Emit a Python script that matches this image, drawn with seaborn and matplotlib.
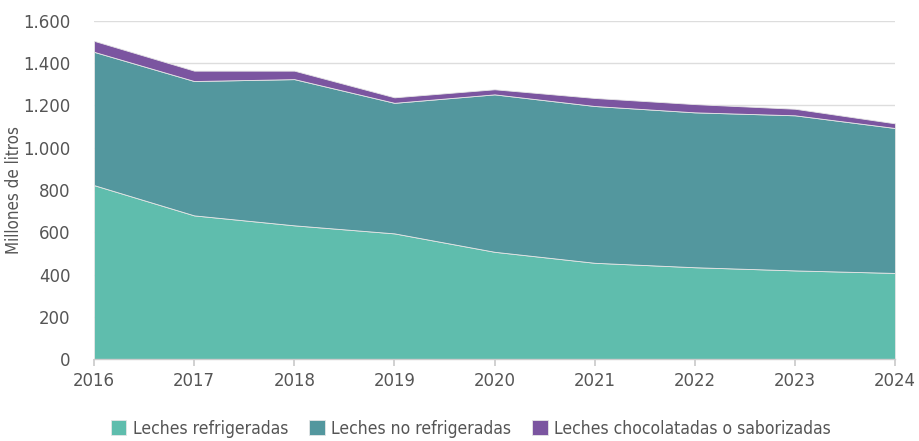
import pandas as pd
import numpy as np
import matplotlib
matplotlib.use("Agg")
import matplotlib.pyplot as plt
from matplotlib import font_manager
import seaborn as sns

# Data (millones de litros)
years = [2016, 2017, 2018, 2019, 2020, 2021, 2022, 2023, 2024]
refrigeradas = [823, 680, 633, 595, 508, 456, 435, 420, 408]
no_refrigeradas = [630, 635, 691, 617, 744, 741, 732, 733, 685]
chocolatadas = [52, 49, 40, 26, 24, 38, 39, 31, 22]

series_names = ['Leches refrigeradas', 'Leches no refrigeradas',
                'Leches chocolatadas o saborizadas']
colors = ['#5fbdad', '#53979e', '#7b55a0']

df = pd.DataFrame({
    'year': years,
    series_names[0]: refrigeradas,
    series_names[1]: no_refrigeradas,
    series_names[2]: chocolatadas,
})

sns.set_theme(style='white')

# the reference uses a condensed face; use one if the system has it
condensed = [f for f in font_manager.fontManager.ttflist
             if f.stretch in ('condensed', 'semi-condensed') and f.style == 'normal'
             and f.weight in (400, 'normal')]
if condensed:
    plt.rcParams['font.family'] = [condensed[0].name, 'DejaVu Sans']
    plt.rcParams['font.stretch'] = condensed[0].stretch
    fs = 13.2
else:
    plt.rcParams['font.family'] = ['Roboto', 'DejaVu Sans']
    fs = 12
text_color = '#555555'

fig, ax = plt.subplots(figsize=(9.19, 4.41), dpi=100)
fig.subplots_adjust(left=0.1023, right=0.9739, bottom=0.1853, top=0.953)

ax.stackplot(df['year'], [df[n] for n in series_names], colors=colors,
             labels=series_names, edgecolor='#e6e6e6', linewidth=0.6, zorder=2)

ax.set_xlim(2016, 2024)
ax.set_ylim(0, 1600)
ax.set_xticks(years)
ax.set_yticks(np.arange(0, 1601, 200))
ax.set_yticklabels([f'{v:,}'.replace(',', '.') for v in range(0, 1601, 200)])

ax.yaxis.grid(True, color='#dddddd', linewidth=1, zorder=0)
ax.xaxis.grid(False)
for side in ['top', 'right', 'left']:
    ax.spines[side].set_visible(False)
ax.spines['bottom'].set_color('#cccccc')
ax.spines['bottom'].set_linewidth(1)
ax.tick_params(axis='x', bottom=True, length=5, color='#cccccc',
               labelsize=fs, labelcolor=text_color, pad=4)
ax.tick_params(axis='y', left=False, labelsize=fs, labelcolor=text_color, pad=11)
ax.set_ylabel('Millones de litros', fontsize=fs - 1.0, color=text_color)
ax.yaxis.set_label_coords(-0.089, 0.5)
ax.set_xlabel('')

fig.legend(*ax.get_legend_handles_labels(), loc='center', ncol=3,
           bbox_to_anchor=(0.512, 0.028), frameon=False, fontsize=fs - 0.6,
           labelcolor=text_color, handlelength=0.9, handleheight=0.9,
           handletextpad=0.35, columnspacing=1.2)

fig.savefig('out.png', dpi=100)
